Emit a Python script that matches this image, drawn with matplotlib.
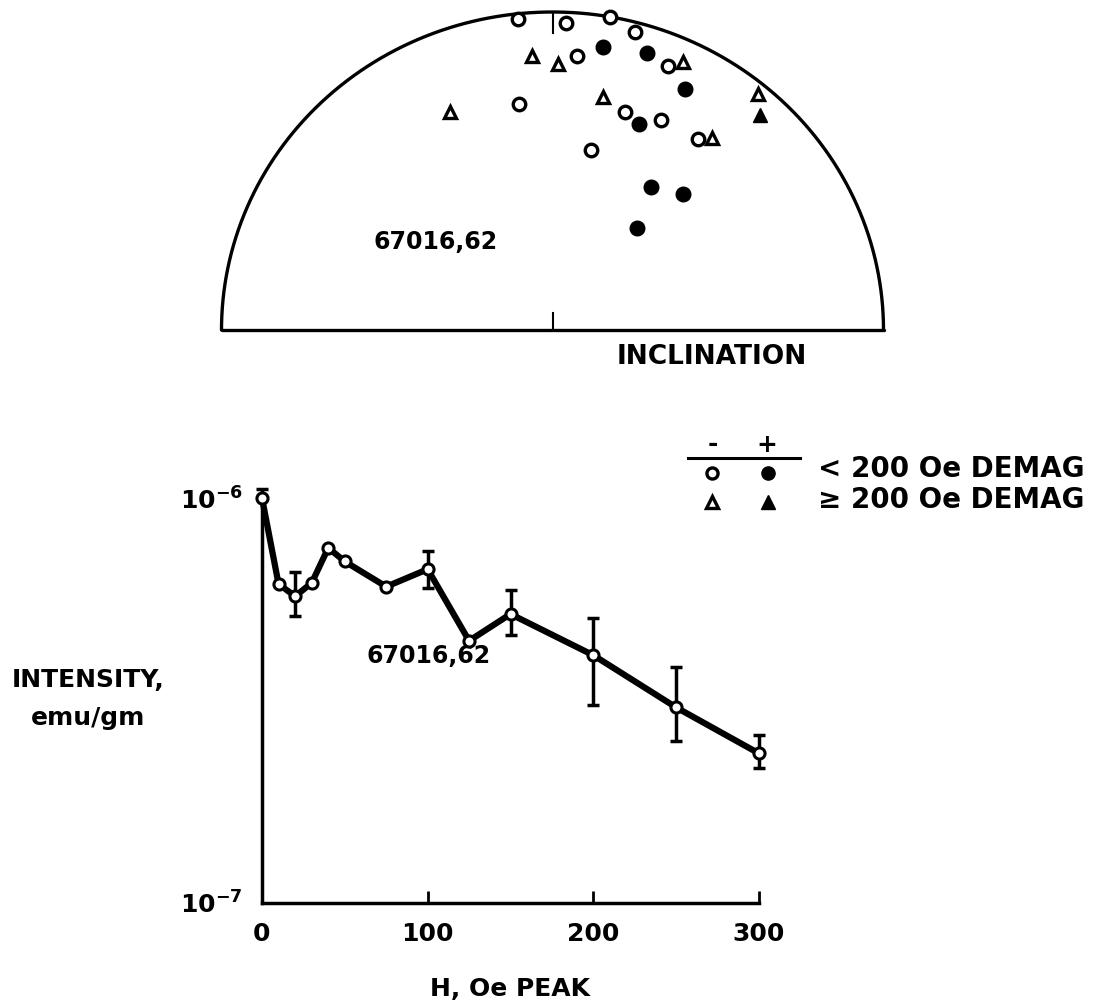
import numpy as np
import matplotlib
matplotlib.use("Agg")
import matplotlib.pyplot as plt

plt.rcParams['font.family'] = ['DejaVu Sans']
plt.rcParams['font.weight'] = 'bold'
plt.rcParams['mathtext.default'] = 'bf'

# ---------------- data: upper stereo-type plot (unit half circle coords) -------------
open_circ_x = [-0.104, 0.041, 0.174, 0.249, 0.074, 0.349, -0.101, 0.219, 0.328, 0.440, 0.116]
open_circ_y = [0.978, 0.965, 0.984, 0.937, 0.862, 0.830, 0.711, 0.686, 0.660, 0.601, 0.566]
fill_circ_x = [0.152, 0.285, 0.400, 0.261, 0.298, 0.393, 0.254]
fill_circ_y = [0.891, 0.870, 0.757, 0.648, 0.449, 0.427, 0.320]
open_tri_x = [-0.063, 0.018, 0.395, 0.152, -0.310, 0.622, 0.481]
open_tri_y = [0.862, 0.836, 0.842, 0.734, 0.686, 0.741, 0.605]
fill_tri_x = [0.627]
fill_tri_y = [0.676]

# ---------------- data: lower intensity plot ----------------
H = [0, 10, 20, 30, 40, 50, 75, 100, 125, 150, 200, 250, 300]
intensity = [1.00e-6, 6.13e-7, 5.72e-7, 6.17e-7, 7.53e-7, 6.97e-7, 6.04e-7,
             6.67e-7, 4.44e-7, 5.17e-7, 4.09e-7, 3.04e-7, 2.34e-7]
err_H = [0, 20, 100, 150, 200, 250, 300]
err_top = [1.05e-6, 6.55e-7, 7.41e-7, 5.93e-7, 5.05e-7, 3.82e-7, 2.60e-7]
err_bot = [1.00e-6, 5.12e-7, 5.98e-7, 4.59e-7, 3.08e-7, 2.51e-7, 2.15e-7]
x_ticks = [0, 100, 200, 300]
sample = "67016,62"

W, Hpx = 1101, 1002
fig = plt.figure(figsize=(W / 100, Hpx / 100), dpi=100)


def px_axes(x0, y0, x1, y1, **kw):
    """axes from pixel box (x0,y0) top-left to (x1,y1) bottom-right"""
    return fig.add_axes([x0 / W, 1 - y1 / Hpx, (x1 - x0) / W, (y1 - y0) / Hpx], **kw)


# ---------------- upper plot ----------------
cx, cy, rx, ry = 552.5, 330.0, 331.0, 318.0
xl = (-1.1, 1.1)
yl = (-0.1, 1.03)
ax1 = px_axes(cx + xl[0] * rx, cy - yl[1] * ry, cx + xl[1] * rx, cy - yl[0] * ry)
ax1.set_xlim(*xl)
ax1.set_ylim(*yl)
ax1.axis('off')
th = np.linspace(0, np.pi, 500)
ax1.plot(np.cos(th), np.sin(th), color='black', lw=2.4, solid_capstyle='round')
ax1.plot([-1, 1], [0, 0], color='black', lw=2.4, solid_capstyle='round')
ax1.plot([0, 0], [0, 0.055], color='black', lw=1.5)
ax1.plot([0, 0], [1.0, 0.935], color='black', lw=1.5)

ax1.plot(open_circ_x, open_circ_y, 'o', ms=9, mfc='white', mec='black', mew=2.4, ls='none')
ax1.plot(fill_circ_x, fill_circ_y, 'o', ms=10.5, mfc='black', mec='black', ls='none')
ax1.plot(open_tri_x, open_tri_y, '^', ms=9, mfc='white', mec='black', mew=2.4, ls='none')
ax1.plot(fill_tri_x, fill_tri_y, '^', ms=10.5, mfc='black', mec='black', ls='none')
ax1.text(-0.352, 0.278, sample, fontsize=17, fontweight='bold', ha='center', va='center')
ax1.text(0.482, -0.085, "INCLINATION", fontsize=19, fontweight='bold', ha='center', va='center')

# ---------------- lower plot ----------------
ax2 = px_axes(262, 498, 759, 903)
ax2.set_yscale('log')
ax2.set_xlim(0, 300)
ax2.set_ylim(1e-7, 1e-6)
ax2.plot(H, intensity, '-', color='black', lw=4.5, clip_on=False, zorder=3)
err_mid = np.array(intensity)[[H.index(h) for h in err_H]]
yerr = [err_mid - np.array(err_bot), np.array(err_top) - err_mid]
ax2.errorbar(err_H, err_mid, yerr=yerr,
             fmt='none', ecolor='black', elinewidth=2.5, capsize=4, capthick=2.5,
             clip_on=False, zorder=3)
ax2.plot(H, intensity, 'o', ms=8, mfc='white', mec='black', mew=2.2, ls='none',
         clip_on=False, zorder=4)
ax2.text(0.335, 0.61, sample, transform=ax2.transAxes, fontsize=17,
         fontweight='bold', ha='center', va='center')

for s in ['top', 'right']:
    ax2.spines[s].set_visible(False)
for s in ['left', 'bottom']:
    ax2.spines[s].set_linewidth(2.5)
ax2.set_xticks(x_ticks)
ax2.set_xticklabels([str(v) for v in x_ticks], fontsize=18, fontweight='bold')
ax2.tick_params(axis='x', direction='in', length=9, width=2, pad=14)
ax2.yaxis.set_minor_locator(matplotlib.ticker.NullLocator())
ax2.set_yticks([1e-7, 1e-6])
ax2.set_yticklabels([r'$\mathbf{10^{-7}}$', r'$\mathbf{10^{-6}}$'], fontsize=18)
ax2.tick_params(axis='y', length=0, pad=14)
ax2.set_xlabel("H, Oe PEAK", fontsize=18, fontweight='bold', labelpad=22)

# ---------------- overlay: y label and legend ----------------
ov = fig.add_axes([0, 0, 1, 1], facecolor='none')
ov.set_xlim(0, W)
ov.set_ylim(Hpx, 0)
ov.axis('off')
ov.text(88, 680, "INTENSITY,", fontsize=18, fontweight='bold', ha='center', va='center')
ov.text(88, 718, "emu/gm", fontsize=18, fontweight='bold', ha='center', va='center')

ov.text(713, 444, "-", fontsize=18, fontweight='bold', ha='center', va='center')
ov.text(767, 445, "+", fontsize=18, fontweight='bold', ha='center', va='center')
ov.plot([688, 800], [458, 458], color='black', lw=2.2)
ov.plot([712], [473], 'o', ms=8, mfc='white', mec='black', mew=2.4)
ov.plot([768], [473], 'o', ms=9.5, mfc='black', mec='black')
ov.plot([712], [502], '^', ms=8, mfc='white', mec='black', mew=2.4)
ov.plot([768], [502], '^', ms=9.5, mfc='black', mec='black')
ov.text(818, 469, "< 200 Oe DEMAG", fontsize=20, fontweight='bold', ha='left', va='center')
ov.text(818, 500, "\u2265 200 Oe DEMAG", fontsize=20, fontweight='bold', ha='left', va='center')

fig.savefig("out.png", dpi=100, facecolor='white')
